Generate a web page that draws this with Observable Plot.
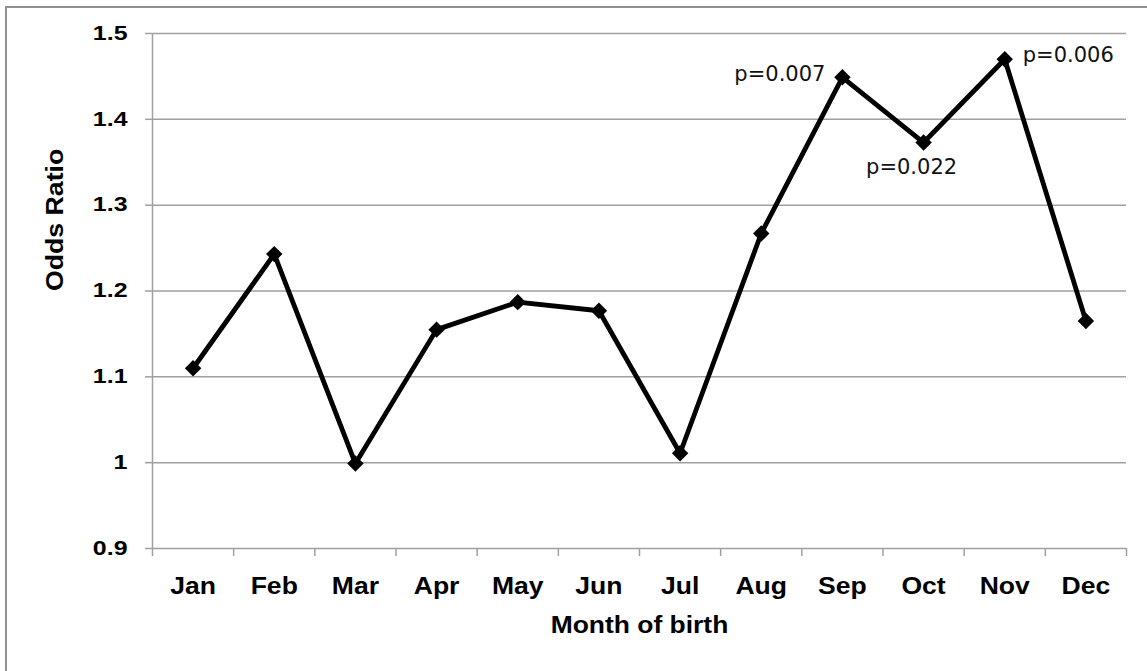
<!DOCTYPE html>
<html>
<head>
<meta charset="utf-8">
<script src="https://cdn.jsdelivr.net/npm/d3@7"></script>
<script src="https://cdn.jsdelivr.net/npm/@observablehq/plot@0.6"></script>
<style>
  html, body { margin: 0; padding: 0; background: #fff; overflow: hidden; }
  #wrap { position: relative; width: 1147px; height: 671px; overflow: hidden; }
  #border { position: absolute; left: 5px; top: 6px; width: 1160px; height: 690px;
            border: 2.5px solid #909090; pointer-events: none; box-sizing: border-box; }
</style>
</head>
<body>
<div id="wrap"><div id="border"></div></div>
<script>
const months = ["Jan","Feb","Mar","Apr","May","Jun","Jul","Aug","Sep","Oct","Nov","Dec"];
const oddsRatio = [1.110, 1.243, 0.999, 1.155, 1.187, 1.177, 1.011, 1.267, 1.449, 1.373, 1.470, 1.165];
const yTicks = [0.9, 1.0, 1.1, 1.2, 1.3, 1.4, 1.5];
const annMonths = ["Sep", "Oct", "Nov"];
const annLabels = ["p=0.007", "p=0.022", "p=0.006"];
const xTitle = "Month of birth";
const yTitle = "Odds Ratio";

const data = months.map((m, i) => ({month: m, idx: i + 0.5, value: oddsRatio[i]}));
const ann = annMonths.map((m, k) => {
  const i = months.indexOf(m);
  return {month: m, idx: i + 0.5, value: oddsRatio[i], label: annLabels[k]};
});
const gray = "#a0a0a0";
const boldFont = "Liberation Sans, Arial, sans-serif";

const chart = Plot.plot({
  width: 1147, height: 671,
  marginLeft: 152, marginRight: 21, marginTop: 33, marginBottom: 123,
  x: {type: "linear", domain: [0, 12]},
  y: {domain: [0.9, 1.5]},
  style: {fontFamily: boldFont, background: "transparent", overflow: "visible", color: "black"},
  marks: [
    Plot.ruleY(yTicks, {stroke: gray, strokeWidth: 1.5}),
    Plot.ruleX([0], {stroke: gray, strokeWidth: 1.5}),
    Plot.axisY({ticks: yTicks, tickSize: 7, tickFormat: () => "", color: gray, strokeWidth: 1.5, label: null}),
    Plot.axisY({ticks: yTicks, tickSize: 0, tickPadding: 25, tickFormat: d => String(+d.toFixed(1)),
                fontSize: 19.5, fontWeight: "bold", color: "black", label: null, ariaDescription: "ylab"}),
    Plot.axisX({ticks: d3.range(13), tickSize: 8, tickFormat: () => "", color: gray, strokeWidth: 1.5, label: null}),
    Plot.axisX({ticks: months.map((_, i) => i + 0.5), tickSize: 0, tickPadding: 29,
                tickFormat: d => months[Math.floor(d)], fontSize: 23.5, fontWeight: "bold", color: "black",
                label: null, ariaDescription: "xlab"}),
    Plot.text([xTitle], {frameAnchor: "bottom", dy: 84, fontSize: 23, fontWeight: "bold", ariaDescription: "xtitle"}),
    Plot.text([yTitle], {frameAnchor: "left", dx: -97, rotate: -90, fontSize: 23, fontWeight: "bold", ariaDescription: "ytitle"}),
    Plot.line(data, {x: "idx", y: "value", stroke: "black", strokeWidth: 4.8, strokeLinejoin: "miter"}),
    Plot.dot(data, {x: "idx", y: "value", symbol: "diamond2", r: 7.4, fill: "black", stroke: "none"}),
    Plot.text(ann.filter(d => d.month === "Sep"), {x: "idx", y: "value", text: "label", textAnchor: "end", dx: -17, dy: -3,
              fontSize: 21, fontFamily: "DejaVu Sans", fill: "#111"}),
    Plot.text(ann.filter(d => d.month === "Oct"), {x: "idx", y: "value", text: "label", textAnchor: "middle", dx: -12, dy: 25,
              fontSize: 21, fontFamily: "DejaVu Sans", fill: "#111"}),
    Plot.text(ann.filter(d => d.month === "Nov"), {x: "idx", y: "value", text: "label", textAnchor: "start", dx: 18, dy: -4,
              fontSize: 21, fontFamily: "DejaVu Sans", fill: "#111"})
  ]
});
const svg = d3.select(chart);
function stretch(sel, r) {
  svg.selectAll(sel).each(function () {
    const t = this.getAttribute("transform") || "";
    this.setAttribute("transform", (t + ` scale(${r},1)`).trim());
  });
}
stretch('[aria-description="ylab"] text', 1.28);
stretch('[aria-description="xlab"] text', 1.13);
stretch('[aria-description="xtitle"] text', 1.15);
stretch('[aria-description="ytitle"] text', 1.16);
chart.style.position = "absolute";
chart.style.left = "0px";
chart.style.top = "0px";
document.getElementById("wrap").insertBefore(chart, document.getElementById("border"));
</script>
</body>
</html>
